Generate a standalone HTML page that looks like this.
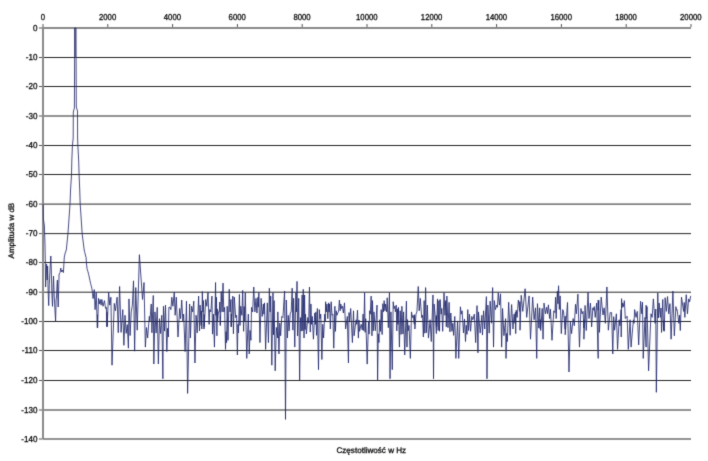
<!DOCTYPE html>
<html><head><meta charset="utf-8"><title>Widmo</title>
<style>html,body{margin:0;padding:0;background:#fff;} svg{display:block;} text{text-rendering:geometricPrecision;}</style>
</head><body>
<svg width="708" height="461" viewBox="0 0 708 461">
<defs><filter id="soft" x="0" y="0" width="708" height="461" filterUnits="userSpaceOnUse" color-interpolation-filters="sRGB"><feConvolveMatrix order="3" kernelMatrix="0.0144 0.0912 0.0144 0.0912 0.5776 0.0912 0.0144 0.0912 0.0144" edgeMode="duplicate" preserveAlpha="true"/></filter></defs>
<g filter="url(#soft)">
<rect width="708" height="461" fill="#fff"/>
<path d="M43.00 57.50H691.00 M43.00 86.50H691.00 M43.00 116.00H691.00 M43.00 145.50H691.00 M43.00 174.50H691.00 M43.00 204.10H691.00 M43.00 233.60H691.00 M43.00 262.50H691.00 M43.00 292.20H691.00 M43.00 321.50H691.00 M43.00 350.50H691.00 M43.00 380.50H691.00 M43.00 410.00H691.00 M43.00 439.00H691.00" stroke="#262626" stroke-width="1" fill="none"/>
<path d="M42.00 28.00H691.00 M43.00 27.00V439.50" stroke="#8a8a8a" stroke-width="2" fill="none"/>
<path d="M43.00 24.00V27.00 M107.80 24.00V27.00 M172.60 24.00V27.00 M237.40 24.00V27.00 M302.20 24.00V27.00 M367.00 24.00V27.00 M431.80 24.00V27.00 M496.60 24.00V27.00 M561.40 24.00V27.00 M626.20 24.00V27.00 M691.00 24.00V27.00 M39.00 28.00H42.00 M39.00 57.50H42.00 M39.00 86.50H42.00 M39.00 116.00H42.00 M39.00 145.50H42.00 M39.00 174.50H42.00 M39.00 204.10H42.00 M39.00 233.60H42.00 M39.00 262.50H42.00 M39.00 292.20H42.00 M39.00 321.50H42.00 M39.00 350.50H42.00 M39.00 380.50H42.00 M39.00 410.00H42.00 M39.00 439.00H42.00" stroke="#555" stroke-width="1" fill="none"/>
<g font-family="Liberation Sans, Arial, sans-serif" font-size="8.6" fill="#0d0d0d" stroke="#0d0d0d" stroke-width="0.3"><text transform="translate(42.80 19.8) scale(0.9 1)" text-anchor="middle">0</text><text transform="translate(107.60 19.8) scale(0.9 1)" text-anchor="middle">2000</text><text transform="translate(172.40 19.8) scale(0.9 1)" text-anchor="middle">4000</text><text transform="translate(237.20 19.8) scale(0.9 1)" text-anchor="middle">6000</text><text transform="translate(302.00 19.8) scale(0.9 1)" text-anchor="middle">8000</text><text transform="translate(366.80 19.8) scale(0.9 1)" text-anchor="middle">10000</text><text transform="translate(431.60 19.8) scale(0.9 1)" text-anchor="middle">12000</text><text transform="translate(496.40 19.8) scale(0.9 1)" text-anchor="middle">14000</text><text transform="translate(561.20 19.8) scale(0.9 1)" text-anchor="middle">16000</text><text transform="translate(626.00 19.8) scale(0.9 1)" text-anchor="middle">18000</text><text transform="translate(690.80 19.8) scale(0.9 1)" text-anchor="middle">20000</text><text transform="translate(37.4 30.80) scale(0.94 1)" text-anchor="end">0</text><text transform="translate(37.4 60.30) scale(0.94 1)" text-anchor="end">-10</text><text transform="translate(37.4 89.30) scale(0.94 1)" text-anchor="end">-20</text><text transform="translate(37.4 118.80) scale(0.94 1)" text-anchor="end">-30</text><text transform="translate(37.4 148.30) scale(0.94 1)" text-anchor="end">-40</text><text transform="translate(37.4 177.30) scale(0.94 1)" text-anchor="end">-50</text><text transform="translate(37.4 206.90) scale(0.94 1)" text-anchor="end">-60</text><text transform="translate(37.4 236.40) scale(0.94 1)" text-anchor="end">-70</text><text transform="translate(37.4 265.30) scale(0.94 1)" text-anchor="end">-80</text><text transform="translate(37.4 295.00) scale(0.94 1)" text-anchor="end">-90</text><text transform="translate(37.4 324.30) scale(0.94 1)" text-anchor="end">-100</text><text transform="translate(37.4 353.30) scale(0.94 1)" text-anchor="end">-110</text><text transform="translate(37.4 383.30) scale(0.94 1)" text-anchor="end">-120</text><text transform="translate(37.4 412.80) scale(0.94 1)" text-anchor="end">-130</text><text transform="translate(37.4 441.80) scale(0.94 1)" text-anchor="end">-140</text></g>
<text x="371.3" y="453.2" text-anchor="middle" font-family="Liberation Sans, Arial, sans-serif" font-size="8.1" fill="#0d0d0d" stroke="#0d0d0d" stroke-width="0.3">Częstotliwość w Hz</text>
<text transform="translate(13.9 230.6) rotate(-90)" x="0" y="0" text-anchor="middle" font-family="Liberation Sans, Arial, sans-serif" font-size="8.0" fill="#0d0d0d" stroke="#0d0d0d" stroke-width="0.3">Amplituda w dB</text>
<rect x="74.6" y="28" width="1.4" height="29.5" fill="#737a9e"/>
<path d="M43.20 204.00 L43.40 219.00 L44.40 226.00 L45.00 245.00 L45.30 262.00 L45.60 287.00 L46.20 270.00 L46.60 264.00 L47.20 280.00 L47.60 266.00 L48.10 290.00 L48.70 305.60 L49.30 284.70 L50.00 270.00 L50.80 256.00 L51.30 270.00 L51.80 291.70 L52.50 306.40 L53.00 290.00 L53.50 276.00 L54.20 295.00 L54.80 307.00 L55.60 321.20 L56.10 300.00 L56.50 297.00 L57.00 285.00 L57.40 280.00 L57.80 295.00 L58.20 307.00 L58.70 288.00 L59.10 274.00 L60.00 272.60 L60.80 268.00 L61.50 272.00 L62.30 270.00 L63.40 272.60 L64.30 257.00 L65.20 253.00 L66.30 250.00 M84.20 250.00 L84.80 252.60 L86.10 257.70 L86.40 262.80 L87.10 269.20 L88.00 271.80 L88.60 274.30 L90.00 280.70 L90.60 283.30 L91.20 285.80 L91.90 288.40 L92.50 293.50 L93.10 298.60 L94.24 289.63 L95.08 309.64 L96.21 292.69 L97.34 327.72 L97.47 314.68 L97.60 327.90 L98.47 298.34 L99.27 303.99 L100.17 299.47 L101.07 305.12 L101.86 299.47 L102.99 306.25 L104.46 300.60 L105.59 308.51 L106.38 307.38 L106.90 326.80 L107.04 312.24 L107.18 326.59 L108.64 292.12 L109.77 305.12 L110.90 297.21 L112.03 365.20 L114.29 303.42 L115.42 310.77 L117.12 297.21 L118.25 332.71 L119.60 286.47 L121.07 332.40 L122.77 309.64 L123.90 345.30 L125.03 315.29 L126.16 333.36 L127.29 324.61 L128.42 348.20 L128.98 298.90 L130.11 335.55 L131.24 311.90 L132.37 305.12 L133.50 280.82 L134.63 351.20 L135.76 287.60 L137.23 330.20 L139.38 254.72 L142.54 299.47 L144.01 282.52 L145.37 347.10 L146.50 327.57 L147.63 338.00 L149.32 316.42 L149.89 320.94 L151.24 303.99 L151.92 332.79 L153.28 295.51 L153.84 364.00 L154.97 311.90 L156.10 333.05 L157.23 307.38 L158.36 364.00 L159.49 318.68 L160.62 333.52 L161.75 315.29 L162.88 378.80 L163.45 306.25 L164.58 331.11 L165.48 305.12 L166.84 351.60 L167.62 328.27 L168.40 337.00 L168.87 307.38 L170.08 307.38 L170.88 309.64 L171.78 297.21 L172.91 306.25 L174.27 292.12 L175.17 315.29 L176.30 297.21 L177.99 337.00 L179.69 308.51 L180.59 318.68 L181.72 300.03 L182.85 320.94 L183.64 314.16 L185.11 351.60 L186.47 301.16 L187.60 393.40 L189.63 303.99 L190.42 338.00 L191.55 306.25 L192.68 311.90 L193.81 301.16 L194.94 363.00 L196.07 315.29 L197.20 332.85 L198.62 296.08 L199.52 330.99 L200.08 305.12 L201.21 325.46 L201.51 310.99 L201.80 329.00 L202.34 291.56 L202.91 311.90 L203.47 300.60 L204.00 329.00 L204.13 314.49 L204.27 326.59 L205.73 299.47 L206.86 306.25 L207.99 292.12 L209.12 324.33 L209.69 309.64 L210.82 311.90 L211.95 296.08 L212.51 334.14 L213.42 314.16 L214.44 347.10 L215.56 282.52 L215.90 315.29 L216.47 297.21 L216.90 335.80 L217.25 308.90 L217.60 320.94 L218.39 311.90 L219.29 311.90 L219.80 302.01 L220.30 325.60 L220.36 316.30 L220.42 324.33 L221.21 291.56 L222.12 311.90 L223.02 283.08 L223.81 311.90 L224.60 307.38 L225.51 349.40 L226.05 331.63 L226.60 342.60 L227.20 306.25 L227.99 340.30 L229.24 289.30 L230.03 311.90 L230.93 299.47 L231.20 326.80 L231.29 313.90 L231.38 326.59 L232.85 296.08 L233.42 333.81 L234.32 297.21 L235.68 317.55 L236.58 315.29 L237.37 355.00 L237.94 324.32 L238.50 332.87 L239.41 294.38 L239.97 325.46 L240.76 306.25 L241.89 315.29 L242.68 290.43 L243.59 331.30 L244.15 306.59 L244.72 320.94 L245.28 292.69 L246.75 358.40 L248.33 314.16 L249.24 353.90 L250.08 330.44 L250.93 340.30 L251.50 307.38 L252.63 311.90 L253.76 287.04 L254.89 311.90 L256.02 298.34 L256.92 313.03 L257.94 297.21 L258.39 307.07 L258.84 292.69 L259.97 342.60 L261.10 298.34 L262.23 316.42 L263.36 303.99 L263.93 314.16 L264.49 302.86 L265.62 349.40 L267.32 302.86 L268.45 342.60 L269.35 288.17 L270.14 311.90 L270.71 296.08 L271.84 365.20 L272.97 292.69 L273.53 334.76 L274.10 300.60 L275.20 370.80 L276.35 327.44 L277.50 338.00 L277.82 311.90 L278.95 353.90 L279.80 322.94 L280.65 335.75 L281.78 316.42 L282.91 317.55 L284.60 290.99 L285.51 419.40 L286.30 300.03 L287.43 338.00 L288.28 315.39 L289.12 330.84 L290.25 313.03 L291.16 311.90 L292.18 288.17 L292.85 330.14 L293.64 298.34 L294.77 347.10 L295.90 292.69 L296.47 311.90 L297.03 281.39 L297.60 335.99 L298.73 298.34 L299.63 379.90 L300.42 317.62 L301.21 331.11 L302.12 294.95 L302.80 330.72 L303.25 289.30 L304.04 338.00 L304.60 294.95 L305.06 329.55 L305.51 314.16 L306.41 333.91 L307.77 317.55 L308.67 323.20 L309.46 287.04 L310.25 332.07 L310.93 303.99 L311.50 324.33 L312.29 316.42 L313.42 339.20 L314.77 313.03 L315.45 324.33 L315.90 311.90 L316.58 335.34 L317.37 308.51 L318.50 369.70 L319.29 309.64 L319.97 318.68 L320.76 314.16 L321.89 359.50 L322.74 324.34 L323.59 338.00 L324.72 314.16 L325.28 320.94 L325.62 301.73 L326.30 311.90 L326.98 303.99 L327.77 318.68 L328.67 302.86 L329.01 311.90 L329.58 303.99 L330.37 329.00 L331.16 301.73 L332.06 315.29 L332.85 314.16 L333.76 348.20 L334.89 306.25 L335.45 331.39 L336.24 310.77 L336.92 315.29 L337.71 313.03 L338.50 311.90 L339.41 300.03 L340.20 310.77 L340.76 303.99 L341.67 308.51 L342.46 306.25 L343.36 313.03 L344.49 302.86 L345.62 329.00 L347.32 316.42 L348.45 362.90 L349.01 312.55 L349.58 320.94 L350.71 308.51 L352.40 342.60 L353.53 310.77 L354.10 335.76 L356.13 319.81 L356.69 324.33 L357.49 310.20 L358.40 338.10 L358.96 320.00 L359.52 331.30 L361.21 324.33 L362.34 330.07 L363.08 314.10 L363.81 330.67 L364.60 292.69 L365.17 332.36 L365.73 318.68 L367.20 364.10 L368.56 320.94 L369.12 334.10 L369.69 310.77 L370.25 314.16 L371.16 296.08 L371.95 335.80 L372.51 300.60 L373.31 330.83 L373.98 311.90 L375.34 330.67 L377.03 305.12 L377.60 379.90 L378.28 333.86 L378.95 342.60 L379.63 319.81 L380.42 331.39 L381.21 309.64 L382.12 334.55 L382.80 303.74 L383.47 311.90 L384.15 300.60 L384.94 310.77 L385.51 303.99 L386.64 311.90 L387.20 297.77 L388.33 327.72 L389.46 292.69 L390.03 378.80 L390.93 311.90 L392.29 369.70 L393.19 301.73 L393.98 308.51 L394.77 306.25 L395.45 311.90 L396.24 305.12 L396.81 330.88 L397.37 308.81 L397.94 324.33 L398.50 307.38 L399.41 347.10 L400.20 310.77 L401.10 334.44 L401.89 306.25 L403.02 333.97 L403.59 311.90 L404.72 355.00 L406.41 301.16 L406.98 347.10 L407.54 319.60 L408.11 330.82 L409.01 325.46 L410.37 358.40 L411.50 311.90 L412.40 317.55 L413.19 315.29 L414.32 324.33 L414.61 314.74 L414.90 329.00 L416.02 314.16 L416.92 311.90 L418.28 286.47 L419.18 310.77 L420.31 298.34 L421.67 317.55 L422.57 315.29 L423.36 337.00 L424.15 300.60 L424.83 333.21 L425.62 287.60 L426.41 332.69 L427.32 305.12 L428.45 338.10 L430.14 319.81 L431.27 341.50 L432.97 294.95 L433.53 378.80 L434.10 303.99 L435.56 319.81 L436.40 333.60 L436.55 315.62 L436.69 326.59 L437.49 298.90 L438.16 330.46 L438.95 300.60 L439.52 331.28 L440.08 299.47 L441.21 314.16 L441.78 308.51 L442.68 331.30 L444.04 292.69 L444.94 315.29 L445.73 300.60 L446.30 326.80 L446.86 296.08 L447.99 327.72 L449.12 302.29 L449.92 331.82 L450.82 313.03 L451.95 331.30 L452.80 323.29 L453.64 335.40 L454.77 316.42 L455.90 358.40 L457.60 320.94 L458.73 358.40 L460.42 306.81 L461.21 314.16 L462.12 310.77 L463.47 332.98 L464.49 318.94 L465.51 341.50 L466.24 325.31 L466.98 334.32 L467.77 309.64 L468.56 330.60 L469.46 314.16 L470.59 331.30 L471.72 316.42 L472.85 319.81 L474.32 314.16 L475.68 342.60 L477.03 305.68 L477.94 352.80 L478.50 311.90 L480.20 333.05 L481.89 315.29 L482.46 335.06 L483.59 310.77 L484.72 329.00 L486.41 296.64 L486.98 378.80 L487.88 305.12 L489.24 333.14 L490.14 301.16 L491.50 323.20 L492.63 287.60 L493.53 347.10 L494.32 300.60 L495.45 309.64 L496.58 305.12 L497.37 307.38 L498.28 292.69 L499.41 305.12 L500.54 293.82 L501.67 347.10 L502.57 308.51 L503.93 335.67 L505.62 318.68 L506.00 358.40 L506.66 333.42 L507.32 341.50 L508.67 302.29 L510.14 335.29 L511.61 304.55 L512.97 329.00 L514.10 314.16 L515.00 323.35 L515.35 312.30 L515.70 333.60 L516.19 310.22 L517.15 317.38 L518.34 300.08 L519.77 311.41 L519.89 301.57 L520.00 330.20 L521.21 295.30 L522.76 311.41 L525.14 288.74 L526.69 317.38 L529.08 295.90 L530.51 339.20 L532.66 297.09 L534.09 319.77 L535.53 307.83 L536.72 358.40 L537.43 303.66 L538.87 328.12 L539.70 307.83 L540.30 329.00 L540.48 319.67 L540.66 330.51 L542.21 308.43 L543.04 339.20 L544.00 303.06 L545.43 313.80 L546.62 307.24 L547.46 313.80 L548.41 304.85 L549.61 318.57 L550.44 309.03 L551.99 340.30 L553.78 310.82 L554.98 312.61 L555.57 297.30 L556.17 318.57 L557.36 291.13 L557.96 303.75 L558.56 285.76 L559.33 309.42 L560.11 295.90 L561.30 333.60 L562.73 309.62 L563.60 312.01 L565.15 329.31 L565.17 316.20 L565.20 334.70 L567.53 302.46 L568.97 372.00 L570.40 322.15 L571.59 333.60 L573.14 318.57 L574.34 325.73 L575.53 304.25 L576.37 313.80 L577.92 294.11 L579.47 347.10 L580.90 308.43 L582.09 313.80 L583.05 311.41 L583.88 328.12 L583.89 319.92 L583.90 339.20 L585.08 305.45 L586.27 330.51 L588.06 292.32 L589.01 318.57 L590.45 303.06 L591.64 326.93 L592.83 307.83 L593.55 310.22 L594.26 306.64 L595.22 317.38 L596.65 303.06 L598.20 358.40 L598.20 300.02 L598.20 310.22 L598.80 300.43 L599.40 332.40 L601.19 297.09 L602.98 314.99 L604.17 307.83 L605.36 323.35 L606.91 286.95 L608.35 330.20 L610.14 312.61 L611.60 312.61 L612.79 353.90 L613.68 316.66 L614.58 330.23 L616.37 313.80 L617.56 349.40 L619.11 319.77 L619.95 325.73 L621.14 309.62 L621.20 337.00 L621.59 298.68 L621.98 307.83 L622.69 303.06 L623.53 306.64 L624.37 300.67 L625.32 318.57 L627.11 316.19 L628.30 349.40 L630.09 319.77 L631.05 347.10 L633.43 319.77 L634.03 323.35 L634.63 309.62 L636.06 317.38 L637.25 311.41 L638.68 344.90 L640.59 301.27 L641.79 313.80 L642.50 302.10 L643.22 358.40 L645.01 317.38 L646.10 347.10 L646.15 305.20 L646.20 318.57 L647.04 306.64 L648.59 370.80 L650.98 313.80 L652.17 317.38 L653.36 298.88 L655.15 323.35 L655.75 309.00 L656.35 392.30 L657.78 292.92 L658.40 317.96 L659.18 303.06 L660.37 317.38 L660.97 307.97 L661.56 332.45 L662.76 299.48 L663.59 330.51 L663.90 320.70 L664.20 331.30 L665.14 297.69 L666.34 311.41 L667.53 296.50 L668.72 313.80 L669.92 303.66 L671.11 339.20 L672.90 291.13 L674.33 335.80 L675.88 306.64 L676.48 310.22 L677.08 309.62 L678.87 323.35 L679.58 315.11 L680.30 330.51 L681.49 297.09 L683.64 311.41 L684.24 302.48 L684.83 317.38 L686.26 294.71 L687.46 313.80 L688.65 298.88 L689.61 301.87 L690.68 295.90" stroke="#232a6e" stroke-width="0.85" fill="none" stroke-linejoin="round"/>
<path d="M66.30 250.00 L68.00 233.00 L70.00 204.00 L70.60 189.00 L71.50 175.00 L71.80 161.00 L72.40 146.00 L73.20 138.00 L73.30 112.00 L74.40 108.00 L74.60 60.00 L74.60 28.00 L76.00 28.00 L76.10 60.00 L76.30 107.00 L77.50 111.00 L77.60 138.00 L77.90 146.00 L78.70 161.00 L79.10 175.00 L79.70 189.00 L80.20 204.00 L82.20 234.00 L84.20 250.00" stroke="#262c68" stroke-width="0.85" fill="none" stroke-linejoin="round"/>
</g>
</svg>
</body></html>
